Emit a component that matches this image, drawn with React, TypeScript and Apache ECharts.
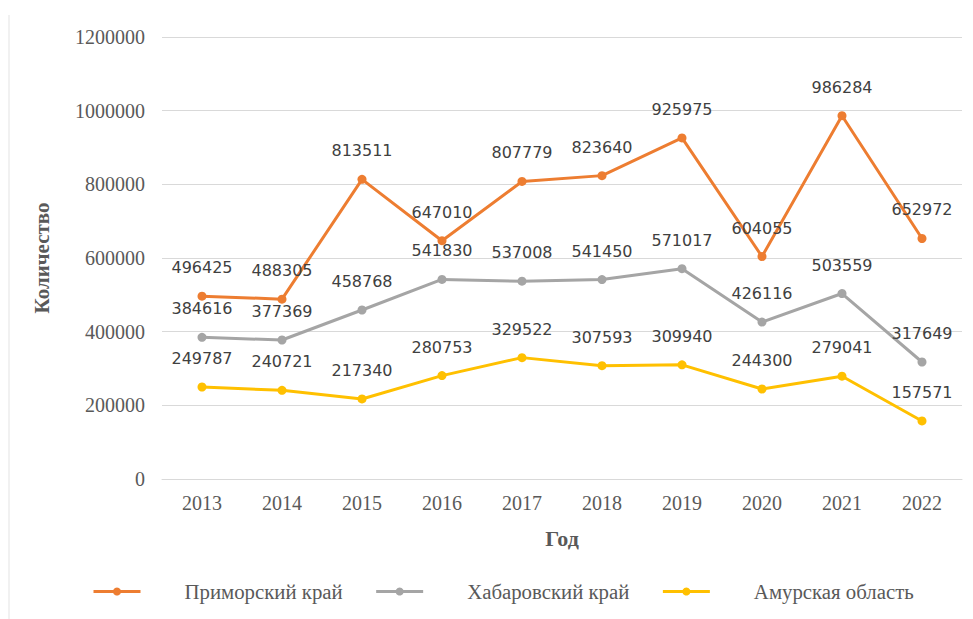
import React, { useEffect, useRef } from "react";
import * as echarts from "echarts";

const years = ["2013", "2014", "2015", "2016", "2017", "2018", "2019", "2020", "2021", "2022"];
const primorsky = [496425, 488305, 813511, 647010, 807779, 823640, 925975, 604055, 986284, 652972];
const khabarovsk = [384616, 377369, 458768, 541830, 537008, 541450, 571017, 426116, 503559, 317649];
const amur = [249787, 240721, 217340, 280753, 329522, 307593, 309940, 244300, 279041, 157571];
const seriesNames = ["Приморский край", "Хабаровский край", "Амурская область"];
const colors = ["#ED7D31", "#A5A5A5", "#FFC000"];

const serif = "'Liberation Serif', 'DejaVu Serif', serif";
const sans = "'DejaVu Sans', 'Noto Sans', sans-serif";

export default function App() {
  const ref = useRef<HTMLDivElement>(null);
  useEffect(() => {
    if (!ref.current) return;
    const chart = echarts.init(ref.current, undefined, { renderer: "svg" });
    const data = [primorsky, khabarovsk, amur];
    chart.setOption({
      animation: false,
      backgroundColor: "#ffffff",
      grid: { left: 162, right: 11, top: 37, bottom: 140 },
      legend: {
        data: seriesNames,
        bottom: 12,
        left: 87,
        itemWidth: 47,
        itemHeight: 10,
        itemGap: 32,
        lineStyle: { width: 3 },
        textStyle: {
          fontFamily: serif,
          fontSize: 20.8,
          color: "#595959",
          padding: [0, 0, 0, 39],
        },
      },
      xAxis: {
        type: "category",
        data: years,
        name: "Год",
        nameLocation: "middle",
        nameGap: 48,
        nameTextStyle: { fontFamily: serif, fontSize: 22, fontWeight: "bold", color: "#595959" },
        axisLine: { lineStyle: { color: "#d9d9d9", width: 1 } },
        axisTick: { show: false },
        axisLabel: { fontFamily: serif, fontSize: 20, color: "#595959", margin: 14 },
      },
      yAxis: {
        type: "value",
        min: 0,
        max: 1200000,
        interval: 200000,
        name: "Количество",
        nameLocation: "middle",
        nameGap: 110,
        nameTextStyle: { fontFamily: serif, fontSize: 21, fontWeight: "bold", color: "#595959" },
        axisLine: { show: false },
        axisTick: { show: false },
        splitLine: { lineStyle: { color: "#d9d9d9", width: 1 } },
        axisLabel: {
          fontFamily: serif,
          fontSize: 20,
          color: "#595959",
          margin: 17,
          formatter: (v: number) => String(v),
        },
      },
      graphic: [
        {
          type: "line",
          shape: { x1: 9, y1: 15, x2: 9, y2: 619 },
          style: { stroke: "#e3e3e3", lineWidth: 1 },
          silent: true,
        },
      ],
      series: seriesNames.map((name, i) => ({
        name,
        type: "line",
        data: data[i],
        symbol: "circle",
        symbolSize: 9,
        lineStyle: { color: colors[i], width: 3 },
        itemStyle: { color: colors[i] },
        label: {
          show: true,
          position: "top",
          distance: 16,
          fontFamily: sans,
          fontSize: 16,
          color: "#404040",
        },
      })),
    });
    return () => chart.dispose();
  }, []);
  return <div ref={ref} style={{ position: "fixed", left: 0, top: 0, width: 973, height: 619 }} />;
}
